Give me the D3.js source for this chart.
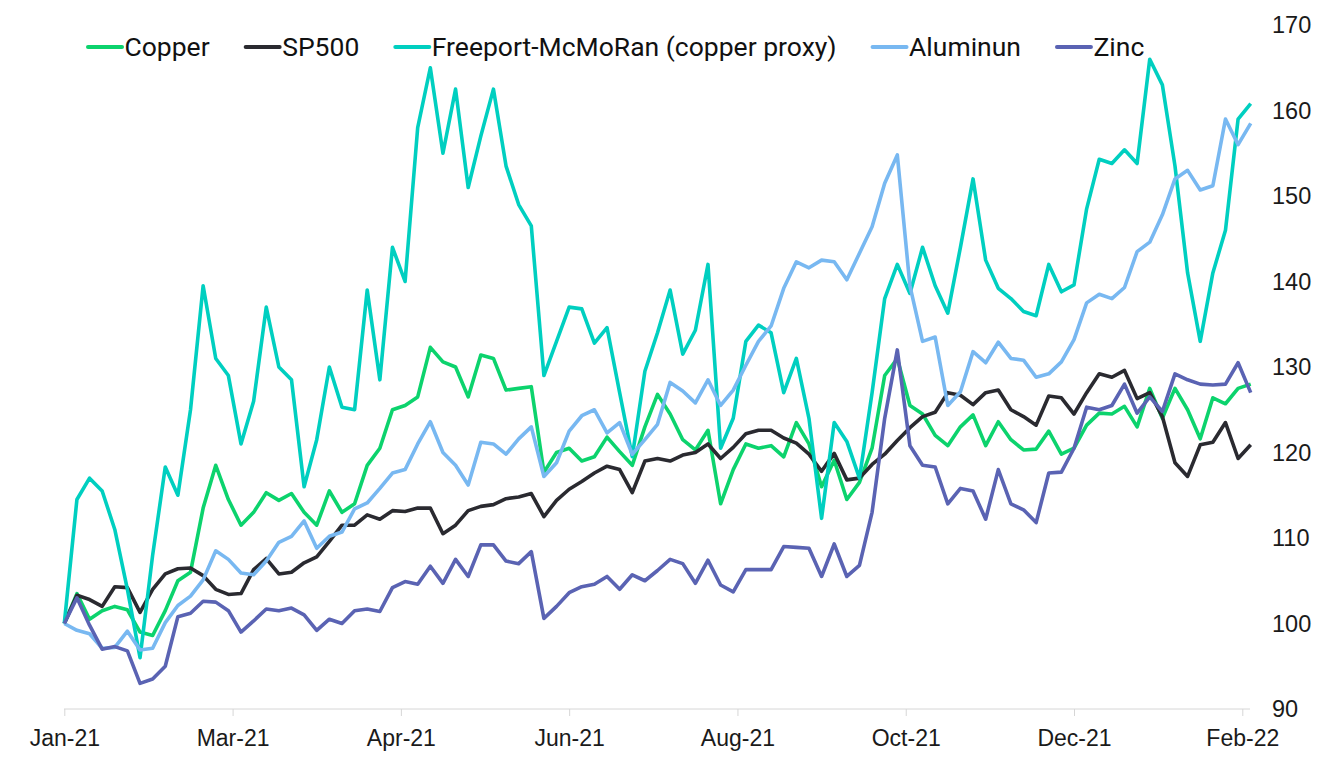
<!DOCTYPE html>
<html>
<head>
<meta charset="utf-8">
<script src="https://cdn.jsdelivr.net/npm/d3@7"></script>
<style>
  body { margin: 0; background: #fff; }
  svg { font-family: Roboto, "Noto Sans", sans-serif; }
</style>
</head>
<body>
<svg id="chart"></svg>
<script>
// Chart size
var width = 1325;
var height = 769;

// Category axis: trading days, a tick every 40 days
var tickIdx = [0, 40, 80, 120, 160, 200, 240, 280];
var tickLabels = ["Jan-21", "Mar-21", "Apr-21", "Jun-21", "Aug-21", "Oct-21", "Dec-21", "Feb-22"];
var yTicks = [90, 100, 110, 120, 130, 140, 150, 160, 170];

// Values read every 3rd trading day (rebased to 100)
var days = d3.range(0, 285, 3);

var copper = [100,103.5,100.5,101.5,102,101.6,99,98.6,101.5,105,
  106,113.5,118.5,114.5,111.5,113,115.3,114.4,115.2,113,
  111.5,115.5,113,114,118.5,120.5,125,125.5,126.5,132.3,
  130.6,130,126.5,131.4,131,127.3,127.5,127.7,117.7,120,
  120.5,119,119.5,121.8,120.1,118.5,123,126.8,124.5,121.5,
  120.3,122.6,114,118,121,120.5,120.8,119.5,123.5,121,
  116,119.1,114.5,116.5,120.5,129,131,125.5,124.5,122,
  120.8,123,124.4,120.8,123.6,121.5,120.3,120.4,122.5,119.8,
  120.5,123.2,124.6,124.5,125.4,123,127.5,124,127.5,125,
  121.6,126.4,125.7,127.5,128];

var sp500 = [100,103.3,102.8,102,104.3,104.2,101.3,104,105.8,106.4,
  106.5,105.6,104,103.4,103.5,106.3,107.6,105.8,106,107.1,
  107.8,109.6,111.5,111.5,112.7,112.2,113.2,113.1,113.5,113.5,
  110.5,111.5,113.2,113.7,113.9,114.6,114.8,115.2,112.5,114.4,
  115.7,116.6,117.6,118.4,118,115.3,119,119.3,119,119.7,
  120,121,119.3,120.6,122.2,122.6,122.6,121.7,121.1,119.8,
  117.8,119.9,116.8,117,118.6,119.8,121.4,122.9,124.2,124.7,
  127,126.7,125.6,127,127.3,125,124.2,123.2,126.6,126.4,
  124.5,127,129.2,128.8,129.6,126.3,127,124.2,118.8,117.2,
  120.9,121.2,123.5,119.3,120.9];

var freeport = [100,114.5,117,115.5,111,104,96,108,118.3,115,
  125,139.5,131,129,121,126,137,130,128.5,116,
  121.5,130,125.3,125,139,128.5,144,140,158,165,
  155,162.5,151,157,162.5,153.5,149,146.5,129,133,
  137,136.8,132.8,134.6,127,119.5,129.5,134,139,131.5,
  134.3,142,120.5,124,133,134.9,134,127,131,124,
  112.3,123.5,121.3,117,127,138,142,138.6,144,139.5,
  136.3,144,152,142.5,139.2,138,136.5,136,142,138.8,
  139.6,148.5,154.3,153.8,155.4,153.8,166,163,153.5,141,
  133,141,146,159,160.8];

var aluminum = [100,99.2,98.8,97.1,97.2,99.1,96.9,97.1,100.1,102.1,
  103.2,105.1,108.5,107.5,105.9,105.7,107.3,109.5,110.2,112,
  108.8,110.2,110.7,113.4,114.1,115.8,117.6,118,121,123.6,
  120,118.5,116.2,121.2,121,119.8,121.6,123,117.2,118.8,
  122.5,124.3,125,122.3,123.5,119.8,121.5,123.3,128.2,127.2,
  125.8,128.5,125.5,127.3,130.2,133,134.8,139.2,142.3,141.6,
  142.5,142.3,140.2,143.3,146.4,151.5,154.8,139.5,133,133.5,
  125.5,127.1,131.8,130.5,132.9,131,130.8,128.8,129.2,130.6,
  133.2,137.5,138.5,138,139.3,143.5,144.6,147.8,152,153,
  150.7,151.2,159,156,158.5];

var zinc = [100,103,99.8,97,97.3,96.8,93,93.5,95,100.8,
  101.2,102.6,102.5,101.5,99,100.3,101.7,101.5,101.8,101,
  99.2,100.5,100,101.5,101.7,101.4,104.2,104.9,104.6,106.7,
  104.7,107.5,105.5,109.2,109.2,107.3,107,108.4,100.6,102,
  103.6,104.3,104.6,105.5,104,105.7,105,106.2,107.5,107,
  104.7,107.4,104.5,103.7,106.3,106.3,106.3,109,108.9,108.8,
  105.5,109.3,105.5,106.8,113,124,132,120.8,118.5,118.3,
  114,115.8,115.5,112.2,118,114,113.3,111.8,117.6,117.7,
  120.5,125.3,125,125.5,128,124.6,126.5,124.8,129.2,128.5,
  128,127.9,128,130.5,127];

var seriesNames = ["Copper", "SP500", "Freeport-McMoRan (copper proxy)", "Aluminun", "Zinc"];
var seriesValues = [copper, sp500, freeport, aluminum, zinc];
var seriesColors = ["#0cd36d", "#2a2a30", "#00cfc0", "#78b8f1", "#5a63b3"];

var svg = d3.select("#chart")
    .attr("width", width)
    .attr("height", height);

// Scales
var x = d3.scaleLinear().domain([0, 280]).range([64.3, 1242.3]);
var y = d3.scaleLinear().domain([90, 170]).range([709, 25]);

// X axis baseline and ticks
svg.append("line")
    .attr("x1", 64).attr("x2", 1250)
    .attr("y1", 709).attr("y2", 709)
    .style("stroke", "#d6d6d6");

var xAxis = svg.append("g")
    .attr("transform", "translate(0,709)")
    .call(d3.axisBottom(x)
        .tickValues(tickIdx)
        .tickSize(7)
        .tickPadding(14)
        .tickFormat(function (d, i) { return tickLabels[i]; }));
xAxis.select(".domain").remove();
xAxis.selectAll(".tick line").style("stroke", "#d6d6d6");
xAxis.selectAll(".tick text")
    .style("font-size", "23px")
    .style("fill", "#1a1a1a");

// Y axis on the right, labels only
var yAxis = svg.append("g")
    .attr("transform", "translate(1262,0)")
    .call(d3.axisRight(y).tickValues(yTicks).tickSize(0).tickPadding(10));
yAxis.select(".domain").remove();
yAxis.selectAll(".tick text")
    .style("font-size", "23.5px")
    .style("fill", "#1a1a1a");

// Lines
var line = d3.line()
    .x(function (d) { return x(d[0]); })
    .y(function (d) { return y(d[1]); });

seriesValues.forEach(function (vals, s) {
    var pts = days.map(function (d, i) { return [d, vals[i]]; });
    svg.append("path")
        .datum(pts)
        .attr("d", line)
        .style("fill", "none")
        .style("stroke", seriesColors[s])
        .style("stroke-width", 3.6)
        .style("stroke-linejoin", "round");
});

// Legend across the top
var legend = svg.append("g").attr("transform", "translate(88,0)");
var lx = 0;
seriesNames.forEach(function (name, s) {
    legend.append("line")
        .attr("x1", lx).attr("x2", lx + 34)
        .attr("y1", 47).attr("y2", 47)
        .style("stroke", seriesColors[s])
        .style("stroke-width", 4)
        .style("stroke-linecap", "round");
    var t = legend.append("text")
        .attr("x", lx + 36.5)
        .attr("y", 56)
        .style("font-size", "26.5px")
        .style("fill", "#111")
        .text(name);
    lx += 36.5 + t.node().getComputedTextLength() + 36;
});
</script>
</body>
</html>
